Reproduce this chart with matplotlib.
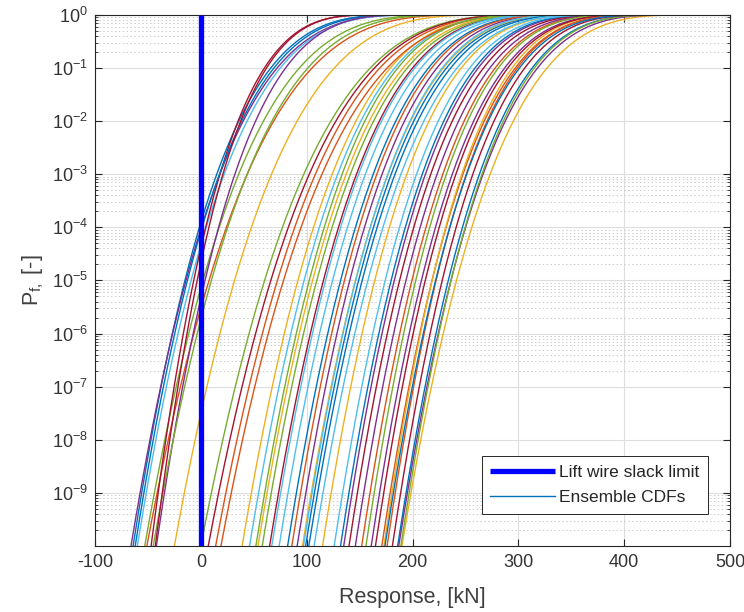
import numpy as np
import matplotlib
matplotlib.use("Agg")
import matplotlib.pyplot as plt
from matplotlib.ticker import FixedLocator, NullFormatter

# ---- data ----
# x position (kN) of each ensemble CDF where it crosses P = 1e-10 (bottom edge)
x_at_p1e10 = [-64, -51, -25, -66, -53, -60, -47,
              -62, 14, 39, -42, -45, 46, -43,
              82, 19, 54, 91, 0, 74, 7,
              99, 86, 96, 135, 52, 97, 65,
              102, 152, 115, 146, 58, 67, 140,
              132, 171, 173, 161, 156, 107, 165,
              186, 176, 190, 187, 189, 126, 181,
              174]
# x position (kN) of each ensemble CDF where it crosses P = 1e-1
x_at_p1e1 = [66, 105, 126, 72, 93, 75, 60,
             69, 169, 179, 80, 101, 183, 62,
             215, 176, 191, 223, 160, 208, 164,
             232, 218, 229, 262, 186, 228, 200,
             236, 278, 246, 273, 195, 202, 267,
             259, 297, 294, 287, 281, 242, 290,
             313, 299, 327, 318, 315, 254, 306,
             301]
gev_shape = -0.3          # common shape of the fitted extreme-value CDFs
slack_limit = 0.0
x_ticks = [-100, 0, 100, 200, 300, 400, 500]
y_major_exp = list(range(-9, 1))
y_minor_decades = [-10, -7, -6, -5, -4, -1]

plt.rcParams["font.family"] = ["Liberation Sans", "DejaVu Sans"]
plt.rcParams["axes.unicode_minus"] = False
plt.rcParams["mathtext.fontset"] = "custom"
plt.rcParams["mathtext.rm"] = "Liberation Sans"
plt.rcParams["mathtext.it"] = "Liberation Sans"
plt.rcParams["mathtext.bf"] = "Liberation Sans:bold"

matlab_colors = ["#0072BD", "#D95319", "#EDB120", "#7E2F8E",
                 "#77AC30", "#4DBEEE", "#A2142F"]


def q(p, xi):
    L = -np.log(p)
    return (L ** (-xi) - 1.0) / xi


fig = plt.figure(figsize=(7.44, 6.12), dpi=100)
ax = fig.add_axes([0.1277, 0.108, 0.8535, 0.8675])

xs = np.linspace(-100, 500, 3000)
xi = gev_shape
for i, (a, b) in enumerate(zip(x_at_p1e10, x_at_p1e1)):
    beta = (b - a) / (q(1e-1, xi) - q(1e-10, xi))
    mu = b - beta * q(1e-1, xi)
    t = 1.0 + xi * (xs - mu) / beta
    F = np.where(t > 0, np.exp(-np.clip(t, 1e-300, None) ** (-1.0 / xi)), 1.0)
    F = np.clip(F, 1e-14, 1.0)
    ax.plot(xs, F, color=matlab_colors[i % 7], lw=1.0, zorder=2,
            label="Ensemble CDFs" if i == 0 else None)

ax.plot([slack_limit, slack_limit], [1e-10, 1], color="#0000FF",
        lw=3.8, zorder=3, label="Lift wire slack limit", solid_capstyle="butt")

ax.set_yscale("log")
ax.set_xlim(-100, 500)
ax.set_ylim(1e-10, 1)
ax.set_xticks(x_ticks)
ax.yaxis.set_major_locator(FixedLocator([10.0 ** e for e in y_major_exp]))
minor = [k * 10.0 ** d for d in y_minor_decades for k in range(2, 10)]
ax.yaxis.set_minor_locator(FixedLocator(minor))
ax.yaxis.set_minor_formatter(NullFormatter())

ax.grid(True, which="major", color="#dedede", lw=0.8, ls="-", zorder=0)
ax.grid(True, which="minor", axis="y", color="#cccccc", lw=0.7, ls=(0, (1.5, 2.5)), zorder=0)
ax.set_axisbelow(True)

tc = "#262626"
for s in ax.spines.values():
    s.set_color(tc)
    s.set_linewidth(0.8)
ax.tick_params(which="both", direction="in", top=True, right=True, colors=tc,
               labelsize=13, labelcolor="#333333")
ax.tick_params(which="major", length=5)
ax.tick_params(which="minor", length=2.5)
ax.tick_params(axis="x", pad=6)
ax.tick_params(axis="y", pad=5)

ax.set_xlabel("Response, [kN]", fontsize=15.5, color="#404040", labelpad=11)
ax.set_ylabel(r"P$_{\mathrm{f,}}$ [-]", fontsize=15.5, color="#404040", labelpad=4)

handles, labels = ax.get_legend_handles_labels()
order = [labels.index("Lift wire slack limit"), labels.index("Ensemble CDFs")]
leg = ax.legend([handles[j] for j in order], [labels[j] for j in order],
                loc="lower right", bbox_to_anchor=(0.965, 0.060),
                fancybox=False, framealpha=1, edgecolor="#262626",
                prop={"size": 12.5},
                handlelength=3.7, borderpad=0.5, labelspacing=0.58,
                handletextpad=0.25, borderaxespad=0)
leg.get_frame().set_linewidth(0.7)
for t in leg.get_texts():
    t.set_color("#262626")

fig.savefig("out.png", dpi=100)
